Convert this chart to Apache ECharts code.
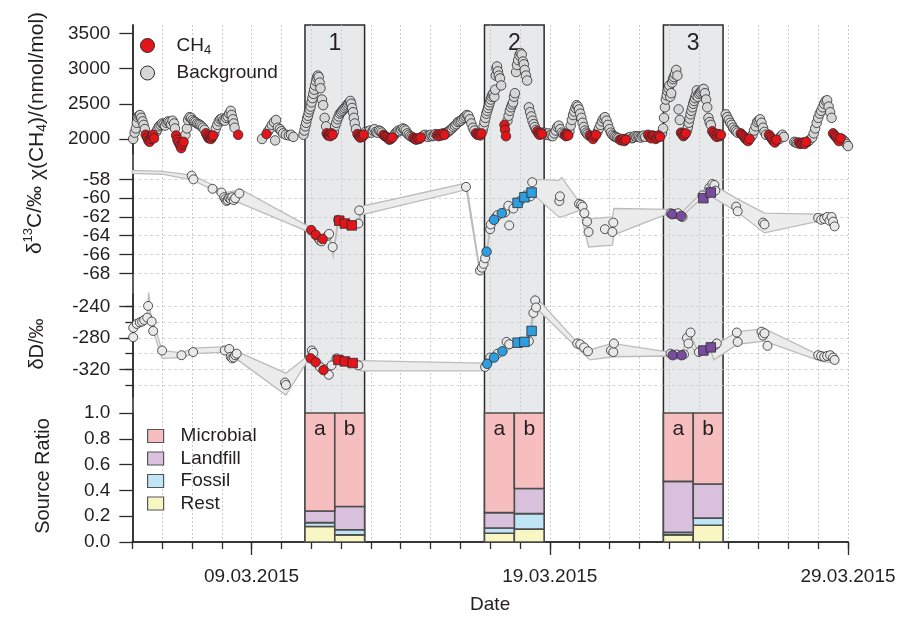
<!DOCTYPE html>
<html><head><meta charset="utf-8">
<script src="https://cdn.jsdelivr.net/npm/echarts@6/dist/echarts.min.js"></script>
<style>html,body{margin:0;padding:0;background:#fff}#c{width:900px;height:617px}</style>
</head><body><div id="c"></div><script>
// x values: days since 05.03.2015 00:00
const dayTicksLabeled = [4, 14, 24];
const dateLabels = ['09.03.2015', '19.03.2015', '29.03.2015'];
const eventStart = [5.79, 11.81, 17.81];
const eventNames = ['1', '2', '3'];
const barHalfNames = ['a', 'b'];

const ch4Ticks = [2000, 2500, 3000, 3500];
const d13cTicks = [-68, -66, -64, -62, -60, -58];
const d13cLabelsA = [-68, -64, -60];
const d13cLabelsB = [-66, -62, -58];
const dDTicks = [-320, -280, -240];
const dDMinorTicks = [-340, -320, -300, -280, -260, -240];
const ratioTicks = [0, 0.2, 0.4, 0.6, 0.8, 1.0];

const ch4Background = [
[0.03,2000],[0.08,2090],[0.12,2150],[0.15,2230],[0.18,2310],[0.22,2330],[0.26,2340],[0.3,2300],[0.34,2250],[0.38,2200],[0.42,2140],
[0.8,2100],[0.85,2140],[0.9,2180],[0.95,2200],[1.0,2220],[1.05,2210],[1.1,2190],[1.15,2230],[1.2,2250],[1.25,2240],[1.3,2210],[1.35,2260],[1.4,2220],[1.43,2150],
[1.78,2060],[1.83,2150],[1.87,2270],[1.92,2310],[1.97,2300],[2.02,2270],[2.07,2250],[2.12,2240],[2.17,2220],[2.22,2210],[2.27,2200],[2.32,2180],[2.37,2160],[2.42,2130],
[2.75,2080],[2.8,2150],[2.85,2200],[2.9,2250],[2.95,2280],[3.0,2290],[3.05,2270],[3.1,2260],[3.15,2300],[3.2,2320],[3.25,2360],[3.3,2400],[3.33,2340],[3.37,2280],[3.4,2220],[3.43,2160],
[4.35,2000],[4.55,2110],[4.62,2150],[4.68,2200],[4.75,2240],[4.82,2270],[4.79,1980],[4.88,2160],[4.95,2140],[5.0,2110],[5.06,2080],[5.15,2060],[5.25,2050],[5.32,2060],[5.4,2030],
[5.74,2060],[5.77,2120],[5.8,2180],[5.83,2230],[5.86,2290],[5.89,2330],[5.92,2380],[5.95,2420],[5.98,2460],[6.01,2520],[6.04,2580],[6.07,2640],[6.1,2700],[6.13,2760],[6.16,2820],[6.19,2870],[6.22,2900],[6.25,2880],[6.28,2800],[6.31,2720],[6.36,2560],[6.4,2480],[6.45,2300],[6.5,2180],
[6.76,2100],[6.8,2180],[6.84,2230],[6.88,2280],[6.92,2320],[6.96,2360],[7.0,2380],[7.04,2400],[7.08,2420],[7.12,2440],[7.16,2460],[7.2,2480],[7.24,2500],[7.28,2520],[7.31,2540],[7.34,2500],[7.37,2440],[7.4,2380],[7.43,2300],[7.46,2220],[7.5,2140],
[7.82,2100],[7.87,2080],[7.92,2110],[7.97,2120],[8.02,2090],[8.07,2120],[8.12,2140],[8.17,2100],[8.22,2090],[8.27,2120],[8.32,2110],[8.37,2090],
[8.77,2050],[8.82,2080],[8.87,2100],[8.92,2120],[8.97,2110],[9.02,2130],[9.07,2150],[9.12,2140],[9.17,2120],[9.22,2080],[9.27,2060],[9.32,2040],[9.37,2030],
[9.72,2030],[9.77,2050],[9.82,2060],[9.87,2040],[9.92,2030],[9.97,2050],[10.02,2060],[10.07,2040],[10.12,2050],[10.17,2070],
[10.52,2080],[10.57,2100],[10.62,2110],[10.67,2130],[10.72,2150],[10.77,2170],[10.82,2190],[10.87,2210],[10.92,2240],[10.97,2250],[11.02,2260],[11.07,2280],[11.12,2300],[11.17,2320],[11.22,2340],[11.27,2330],[11.32,2280],[11.37,2220],[11.42,2160],[11.47,2120],
[11.75,2120],[11.78,2180],[11.81,2240],[11.84,2300],[11.87,2360],[11.9,2400],[11.93,2440],[11.96,2480],[11.99,2520],[12.02,2560],[12.05,2600],[12.08,2630],[12.11,2650],[12.14,2600],[12.17,2700],[12.19,2900],[12.21,3000],[12.23,3030],[12.26,2960],[12.29,2900],[12.33,2860],[12.37,2760],
[12.58,2260],[12.62,2330],[12.66,2400],[12.7,2450],[12.74,2490],[12.77,2520],[12.8,2600],[12.83,2650],[12.87,2950],[12.9,3050],[12.94,3120],[12.98,3190],[13.02,3220],[13.06,3200],[13.1,3100],[13.13,3060],[13.16,2980],[13.2,2900],[13.24,2830],[13.3,2450],[13.34,2380],[13.38,2320],[13.42,2260],[13.46,2210],[13.5,2170],[13.54,2130],
[13.8,2090],[13.85,2070],[13.9,2060],[13.95,2080],[14.0,2050],[14.05,2060],[14.1,2040],[14.15,2080],[14.2,2120],[14.25,2170],[14.3,2190],[14.35,2140],[14.4,2090],[14.45,2070],
[14.66,2110],[14.7,2190],[14.74,2270],[14.78,2340],[14.82,2390],[14.86,2440],[14.9,2480],[14.94,2460],[14.98,2420],[15.02,2360],[15.06,2300],[15.1,2230],[15.14,2170],[15.18,2120],[15.22,2090],[15.26,2070],[15.3,2050],
[15.6,2100],[15.65,2150],[15.7,2200],[15.75,2250],[15.8,2290],[15.85,2310],[15.9,2260],[15.95,2200],[16.0,2140],[16.05,2090],[16.1,2060],[16.15,2040],[16.2,2030],[16.25,2020],[16.3,2010],
[16.6,2010],[16.65,2020],[16.7,2030],[16.75,2010],[16.8,2020],[16.85,2040],[16.9,2030],[16.95,2040],[17.0,2030],[17.05,2020],[17.1,2040],[17.15,2050],[17.2,2030],
[17.76,2080],[17.8,2150],[17.83,2300],[17.86,2450],[17.89,2560],[17.92,2620],[17.95,2680],[17.98,2720],[18.01,2760],[18.04,2600],[18.07,2650],[18.1,2800],[18.13,2850],[18.16,2880],[18.2,2920],[18.24,2980],[18.28,2900],[18.32,2420],[18.36,2270],
[18.6,2120],[18.63,2170],[18.66,2230],[18.69,2290],[18.72,2350],[18.75,2400],[18.78,2450],[18.81,2500],[18.84,2540],[18.87,2580],[18.9,2620],[18.93,2690],[18.96,2600],[19.0,2640],[19.04,2660],[19.08,2680],[19.12,2700],[19.16,2710],[19.2,2650],[19.24,2560],[19.28,2450],[19.32,2300],[19.36,2240],[19.4,2200],
[19.9,2350],[19.95,2310],[20.0,2270],[20.05,2230],[20.1,2200],[20.15,2160],[20.2,2130],[20.25,2110],[20.3,2090],
[20.75,2030],[20.8,2060],[20.85,2120],[20.9,2180],[20.95,2240],[21.0,2260],[21.05,2280],[21.1,2230],[21.15,2160],[21.2,2100],[21.25,2060],
[21.7,2000],[21.75,2040],[21.8,2060],[21.85,2030],
[22.2,1960],[22.25,1950],[22.3,1940],[22.65,1960],[22.7,1980],
[22.8,2020],[22.85,2080],[22.9,2150],[22.95,2230],[23.0,2300],[23.05,2360],[23.1,2400],[23.15,2450],[23.2,2500],[23.25,2540],[23.3,2550],[23.35,2460],[23.4,2380],[23.45,2300],
[23.8,2000],[23.85,1980],[23.9,1960],[23.95,1930],[24.0,1900]
];
const ch4Source = [
[0.45,2060],[0.5,2020],[0.54,1980],[0.58,1960],[0.62,2000],[0.66,2040],[0.7,2060],[0.73,2010],
[1.47,2050],[1.51,1990],[1.55,1950],[1.6,1910],[1.64,1870],[1.68,1920],[1.72,1960],
[2.47,2080],[2.52,2040],[2.56,2010],[2.6,2020],[2.64,2000],[2.68,2030],[2.71,2050],
[3.55,2060],[4.5,2070],
[6.52,2080],[6.56,2050],[6.6,2060],[6.64,2040],[6.68,2080],[6.72,2060],
[7.55,2070],[7.6,2040],[7.64,2020],[7.68,2050],[7.72,2030],[7.76,2060],
[8.42,2060],[8.47,2040],[8.52,2030],[8.57,2010],[8.62,1990],[8.67,2000],[8.72,2020],
[9.42,2020],[9.47,2000],[9.52,1990],[9.57,2010],[9.62,2000],[9.67,2020],
[10.22,2060],[10.27,2040],[10.32,2070],[10.37,2050],[10.42,2080],[10.47,2060],
[11.52,2080],[11.57,2060],[11.62,2070],[11.67,2050],[11.71,2080],
[12.48,2200],[12.5,2130],[12.53,2040],
[13.58,2110],[13.62,2080],[13.66,2060],[13.7,2090],[13.74,2070],
[14.5,2060],[14.54,2040],[14.58,2070],[14.62,2050],
[15.35,2050],[15.4,2030],[15.45,2000],[15.5,2040],[15.55,2060],
[16.35,1990],[16.4,1980],[16.45,2000],[16.5,1970],[16.55,1990],
[17.3,2060],[17.35,2030],[17.4,2010],[17.45,2050],[17.5,2040],[17.55,2000],[17.6,2020],[17.65,2050],[17.7,2030],
[18.4,2090],[18.44,2070],[18.48,2040],[18.52,2060],[18.56,2080],
[19.45,2110],[19.5,2080],[19.55,2050],[19.6,2030],[19.65,2070],[19.7,2040],[19.74,2060],
[20.4,2080],[20.45,2060],[20.5,2040],[20.55,2010],[20.6,1990],[20.65,1970],[20.7,2000],
[21.35,2060],[21.4,2030],[21.45,2000],[21.5,1970],[21.55,1950],[21.6,1990],
[22.35,1950],[22.4,1930],[22.45,1940],[22.5,1950],[22.55,1930],[22.6,1960],
[23.5,2080],[23.55,2050],[23.6,2030],[23.65,2000],[23.7,1970],[23.75,2010]
];

const d13cBackground = [
[1.99,-57.6],[2.05,-58.0],[2.69,-59.0],[2.99,-59.4],[3.08,-59.9],[3.12,-60.1],[3.16,-60.3],[3.2,-60.2],[3.25,-60.0],[3.3,-60.1],[3.35,-59.9],[3.4,-60.2],[3.45,-60.0],[3.59,-59.5],
[6.25,-64.3],[6.29,-64.5],[6.35,-64.6],[6.55,-64.0],[6.6,-63.8],[6.72,-65.2],[6.9,-62.3],[7.58,-62.7],[7.61,-61.3],
[11.19,-58.8],
[11.66,-67.7],[11.72,-67.4],[11.78,-67.0],[11.83,-66.4],[12.0,-63.3],[12.02,-62.8],[12.2,-62.0],[12.25,-61.8],[12.5,-61.5],[12.61,-60.8],[12.64,-62.9],[12.78,-61.1],[13.0,-60.3],[13.2,-59.7],[13.35,-59.8],[13.41,-58.3],
[14.32,-60.3],[14.34,-59.8],[14.98,-60.6],[15.05,-60.7],[15.1,-60.9],[15.16,-61.6],[15.25,-62.5],[15.3,-63.6],[15.85,-63.3],[16.1,-63.6],[16.13,-62.6],
[18.05,-61.6],[18.2,-61.7],[18.3,-61.6],[18.45,-62.0],[19.12,-59.7],[19.35,-58.9],[19.45,-58.5],[19.52,-58.6],[19.55,-59.2],
[20.25,-60.9],[20.3,-61.4],[21.15,-62.6],[21.2,-62.8],
[23.0,-62.1],[23.1,-62.3],[23.2,-62.2],[23.3,-62.0],[23.38,-62.4],[23.45,-62.0],[23.5,-62.5],[23.55,-63.0]
];
const d13cRedCircles = [[6.0,-63.4],[6.15,-63.9],[6.38,-64.35]];
const d13cRedSquares = [[6.94,-62.4],[7.13,-62.7],[7.36,-62.9]];
const d13cBlueCircles = [[11.88,-65.7],[12.13,-62.3],[12.39,-61.6]];
const d13cBlueSquares = [[12.92,-60.5],[13.15,-59.9],[13.39,-59.4]];
const d13cPurpleCircles = [[18.1,-61.7],[18.4,-61.9]];
const d13cPurpleSquares = [[19.15,-60.0],[19.4,-59.4]];

const d13cBandDay = [0.0,1.0,2.0,2.7,3.1,3.5,3.6,5.85,6.1,6.4,6.6,6.74,6.9,7.1,7.45,7.6,7.65,11.2,11.65,11.9,12.0,12.3,12.6,13.0,13.4,13.45,14.3,14.4,15.01,15.3,16.1,16.15,18.0,18.4,19.1,19.45,19.5,20.3,21.2,23.1,23.55];
const d13cBandLow = [-57.35,-57.45,-58.05,-59.1,-60.2,-60.5,-60.5,-63.5,-64.1,-64.8,-64.2,-66.2,-62.6,-62.8,-63.0,-62.9,-61.8,-59.1,-67.9,-65.7,-63.3,-62.0,-61.2,-60.5,-59.4,-59.6,-62.0,-62.0,-61.3,-65.2,-65.0,-63.9,-61.6,-62.0,-60.0,-58.6,-60.0,-61.5,-63.7,-62.4,-62.6];
const d13cBandHigh = [-57.05,-57.15,-57.55,-58.6,-59.4,-59.2,-59.0,-62.9,-63.6,-64.2,-63.7,-65.8,-62.2,-62.3,-62.5,-62.3,-60.9,-58.4,-67.5,-65.3,-62.9,-61.5,-60.6,-60.1,-58.9,-58.0,-58.1,-57.8,-60.5,-62.2,-62.0,-61.1,-61.2,-61.6,-59.4,-58.0,-58.6,-60.1,-61.6,-61.7,-61.7];

const dDBackground = [
[0.03,-267],[0.03,-279],[0.15,-262],[0.25,-260],[0.33,-259],[0.4,-257],[0.5,-254],[0.53,-239],[0.65,-259],[0.7,-271],[1.0,-296],[1.65,-302],[2.04,-298],[3.1,-296],[3.25,-294],[3.3,-304],[3.35,-306],[3.4,-305],[3.45,-302],[3.5,-300],[5.12,-337],[5.15,-340],
[6.02,-296],[6.07,-299],[6.29,-317],[6.51,-320],[6.59,-327],[6.68,-315],[6.85,-306],[7.58,-315],
[11.83,-317],[12.0,-305],[12.25,-300],[12.55,-285],[12.64,-288],[13.3,-284],[13.45,-248],[13.51,-232],[13.54,-241],
[14.92,-287],[15.02,-288],[15.15,-292],[15.28,-297],[16.05,-296],[16.13,-298],[16.15,-287],
[18.05,-300],[18.25,-301],[18.5,-301],[18.6,-280],[18.65,-287],[18.72,-273],[19.0,-298],[19.55,-289],[19.6,-287],
[20.27,-273],[20.3,-285],[21.1,-272],[21.15,-277],[21.2,-274],[21.3,-290],
[23.0,-302],[23.1,-303],[23.2,-304],[23.3,-303],[23.4,-302],[23.5,-305],[23.55,-308]
];
const dDRedCircles = [[5.98,-306],[6.15,-311],[6.41,-321]];
const dDRedSquares = [[6.91,-308],[7.13,-310],[7.39,-312]];
const dDBlueCircles = [[11.9,-313],[12.13,-305],[12.41,-297]];
const dDBlueSquares = [[12.92,-286],[13.15,-285],[13.39,-271]];
const dDPurpleCircles = [[18.12,-302],[18.42,-302]];
const dDPurpleSquares = [[19.15,-296],[19.4,-292]];

const dDBandDay = [0.0,0.5,0.55,0.62,1.0,1.65,2.05,3.2,3.5,5.15,5.88,6.1,6.4,6.6,6.72,7.0,7.4,7.6,7.65,11.75,11.9,12.4,12.9,13.35,13.42,13.5,14.9,15.0,15.35,16.1,18.0,18.45,18.6,18.7,18.95,19.1,19.4,19.5,20.3,21.2,23.1,23.55];
const dDBandLow = [-268,-258,-226,-262,-306,-305,-300,-298,-307,-353,-309,-305,-321,-327,-314,-310,-314,-318,-322,-322,-316,-300,-289,-288,-260,-240,-292,-296,-308,-304,-303,-304,-296,-288,-302,-298,-296,-308,-288,-284,-310,-312];
const dDBandHigh = [-261,-249,-222,-250,-296,-299,-293,-291,-297,-325,-303,-298,-313,-318,-303,-304,-308,-309,-309,-312,-311,-294,-283,-281,-240,-226,-285,-290,-295,-287,-298,-298,-280,-274,-296,-293,-288,-290,-272,-268,-303,-304];

// source ratios for bars 1a,1b,2a,2b,3a,3b
const ratioMicrobial = [0.76, 0.725, 0.772, 0.585, 0.53, 0.55];
const ratioLandfill = [0.09, 0.18, 0.12, 0.195, 0.395, 0.265];
const ratioFossil = [0.03, 0.04, 0.04, 0.12, 0.02, 0.055];
const ratioRest = [0.12, 0.055, 0.068, 0.10, 0.055, 0.13];

const FONT = '"Liberation Sans", Arial, Helvetica, sans-serif';
const TXT = '#231f20';
const AX = '#2b2b2b';
const GL = 132.3, GR = 52;

function ratioSegments(which) {
  const layers = [ratioRest, ratioFossil, ratioLandfill, ratioMicrobial];
  return ratioRest.map((_, j) => {
    let base = 0;
    for (let k = 0; k < which; k++) base += layers[k][j];
    const x0 = eventStart[Math.floor(j / 2)] + (j % 2);
    return [x0, x0 + 1, base, Math.min(1, base + layers[which][j]), j];
  });
}
function barRender(withLabel) {
  return function (params, api) {
    const a = api.coord([api.value(0), api.value(3)]);
    const b = api.coord([api.value(1), api.value(2)]);
    const rect = {type: 'rect', shape: {x: a[0], y: a[1], width: b[0] - a[0], height: b[1] - a[1]},
      style: {fill: api.visual('color'), stroke: '#4d4d4d', lineWidth: 1.6}};
    if (!withLabel) return rect;
    return {type: 'group', children: [rect, {type: 'text', x: (a[0] + b[0]) / 2, y: a[1] + 16,
      style: {text: barHalfNames[api.value(4) % 2], fontSize: 21, fontFamily: FONT, fill: TXT, align: 'center', verticalAlign: 'middle'}}]};
  };
}
function bandRender(days, lo, hi) {
  return function (params, api) {
    const pts = [];
    for (let i = 0; i < days.length; i++) pts.push(api.coord([days[i], hi[i]]));
    for (let i = days.length - 1; i >= 0; i--) pts.push(api.coord([days[i], lo[i]]));
    return {type: 'polygon', shape: {points: pts}, style: {fill: '#ececec', stroke: '#bcbcbc', lineWidth: 1.3}};
  };
}
function pts(name, data, xi, yi, color, symbol, size, z) {
  return {type: 'scatter', name: name, data: data, xAxisIndex: xi, yAxisIndex: yi, symbol: symbol || 'circle',
    symbolSize: size || 9, itemStyle: {color: color, borderColor: '#2a2a2a', borderWidth: 0.8, opacity: 1}, z: z || 3, silent: true};
}
function lbl(values, fmt) {
  return {show: true, customValues: values, interval: 0, margin: 22, fontSize: 19, lineHeight: 16, color: TXT, fontFamily: FONT,
    showMinLabel: true, showMaxLabel: true, hideOverlap: false, formatter: fmt || (v => String(v))};
}
function yAx(grid, min, max, ticks, extra) {
  return Object.assign({type: 'value', gridIndex: grid, min: min, max: max, position: 'left',
    axisLine: {show: true, lineStyle: {color: AX, width: 1.5}},
    axisTick: {show: true, inside: false, length: 13, interval: 0, customValues: ticks, lineStyle: {color: AX, width: 1.3}},
    axisLabel: lbl(ticks),
    splitLine: {show: false}}, extra || {});
}
const xHidden = g => ({type: 'value', gridIndex: g, min: 0, max: 24, show: false});

const option = {
  animation: false,
  backgroundColor: '#fff',
  textStyle: {fontFamily: FONT},
  grid: [
    {left: GL, right: GR, top: 25, bottom: 75},
    {left: GL, right: GR, top: 25, height: 129},
    {left: GL, right: GR, top: 170, height: 103.3},
    {left: GL, right: GR, top: 294, height: 103},
    {left: GL, right: GR, top: 413, height: 129}
  ],
  xAxis: [
    {type: 'value', gridIndex: 0, min: 0, max: 24, interval: 1, position: 'top',
      axisLine: {show: true, lineStyle: {color: AX, width: 1.5}}, axisTick: {show: false}, axisLabel: {show: false},
      splitLine: {show: true, lineStyle: {type: [2, 2], color: '#cdcdcd', width: 1}}},
    xHidden(1), xHidden(2), xHidden(3),
    {type: 'value', gridIndex: 4, min: 0, max: 24, interval: 1, position: 'bottom',
      axisLine: {show: true, lineStyle: {color: AX, width: 1.5}},
      axisTick: {show: true, length: 7, lineStyle: {color: AX, width: 1.3}},
      axisLabel: {show: true, customValues: dayTicksLabeled, interval: 0, margin: 25, fontSize: 19, color: TXT, fontFamily: FONT,
        showMinLabel: true, showMaxLabel: true,
        formatter: v => { const i = dayTicksLabeled.indexOf(Math.round(v)); return i >= 0 ? dateLabels[i] : ''; }},
      splitLine: {show: false},
      name: 'Date', nameLocation: 'middle', nameGap: 53, nameTextStyle: {fontSize: 19, color: TXT, fontFamily: FONT}},
    {type: 'value', gridIndex: 4, min: 0, max: 24, position: 'bottom',
      axisLine: {show: false}, axisTick: {show: true, length: 13, customValues: dayTicksLabeled, lineStyle: {color: AX, width: 1.3}},
      axisLabel: {show: false}, splitLine: {show: false}}
  ],
  yAxis: [
    {type: 'value', gridIndex: 0, min: 0, max: 1, position: 'right',
      axisLine: {show: true, lineStyle: {color: AX, width: 1.5}}, axisTick: {show: false}, axisLabel: {show: false}, splitLine: {show: false}},
    yAx(1, 1787, 3618, ch4Ticks),
    yAx(2, -68, -57, d13cTicks, {axisLabel: lbl(d13cLabelsA), splitLine: {show: true, lineStyle: {type: [3, 3], color: '#d2d2d2'}}}),
    yAx(3, -355.4, -223.8, dDTicks),
    {type: 'value', gridIndex: 3, min: -355.4, max: -223.8, position: 'left',
      axisLine: {show: false}, axisTick: {show: true, length: 7, interval: 0, customValues: dDMinorTicks, lineStyle: {color: AX, width: 1.3}},
      axisLabel: {show: false}, splitLine: {show: true, lineStyle: {type: [3, 3], color: '#d2d2d2'}}},
    yAx(4, 0, 1, ratioTicks, {axisLabel: lbl(ratioTicks, v => v.toFixed(1))}),
    {type: 'value', gridIndex: 2, min: -68, max: -57, position: 'left',
      axisLine: {show: false}, axisTick: {show: false}, axisLabel: lbl(d13cLabelsB), splitLine: {show: false}}
  ],
  legend: [
    {data: ['CH4', 'Background'], orient: 'vertical', left: 140, top: 36, itemWidth: 14, itemHeight: 14, itemGap: 7,
      icon: 'circle', selectedMode: false, padding: 0,
      itemStyle: {borderColor: '#2a2a2a', borderWidth: 1},
      formatter: n => n === 'CH4' ? '{n|CH}{s|4}' : '{n|Background}',
      textStyle: {color: TXT, fontFamily: FONT, fontSize: 19, padding: [0, 0, 0, 17], rich: {
        n: {fontSize: 19, lineHeight: 22, color: TXT, fontFamily: FONT},
        s: {fontSize: 13, lineHeight: 13, verticalAlign: 'bottom', color: TXT, fontFamily: FONT}}}},
    {data: ['Microbial', 'Landfill', 'Fossil', 'Rest'], orient: 'vertical', left: 147, top: 425, itemWidth: 16, itemHeight: 13,
      itemGap: 0.5, icon: 'rect', selectedMode: false, padding: 0, symbolKeepAspect: false,
      itemStyle: {borderColor: '#555', borderWidth: 1.2},
      textStyle: {color: TXT, fontFamily: FONT, fontSize: 19, lineHeight: 22, padding: [0, 0, 0, 12]}}
  ],
  graphic: [
    {type: 'text', x: 37, y: 96, rotation: Math.PI / 2, silent: true,
      style: {text: '{n|χ(CH}{s|4}{n|)/(nmol/mol)}', align: 'center', verticalAlign: 'middle', fill: TXT, fontFamily: FONT, fontSize: 21,
        rich: {n: {fontSize: 21, lineHeight: 24, fontFamily: FONT, fill: TXT}, s: {fontSize: 14, lineHeight: 14, verticalAlign: 'bottom', fontFamily: FONT, fill: TXT}}}},
    {type: 'text', x: 35, y: 220, rotation: Math.PI / 2, silent: true,
      style: {text: '{n|δ}{p|13}{n|C/‰}', align: 'center', verticalAlign: 'middle', fill: TXT, fontFamily: FONT, fontSize: 20,
        rich: {n: {fontSize: 21, lineHeight: 26, fontFamily: FONT, fill: TXT}, p: {fontSize: 13, lineHeight: 13, verticalAlign: 'top', fontFamily: FONT, fill: TXT}}}},
    {type: 'text', x: 37, y: 344, rotation: Math.PI / 2, silent: true,
      style: {text: 'δD/‰', align: 'center', verticalAlign: 'middle', fill: TXT, fontFamily: FONT, fontSize: 20}},
    {type: 'text', x: 43, y: 476, rotation: Math.PI / 2, silent: true,
      style: {text: 'Source Ratio', align: 'center', verticalAlign: 'middle', fill: TXT, fontFamily: FONT, fontSize: 20}}
  ],
  series: [
    {type: 'custom', name: 'events', xAxisIndex: 0, yAxisIndex: 0, z: -1, silent: true,
      data: eventStart.map((s, i) => [s, s + 2, 0, 1, i]), encode: {x: [0, 1], y: [2, 3]},
      renderItem: (params, api) => {
        const a = api.coord([api.value(0), api.value(3)]);
        const b = api.coord([api.value(1), api.value(2)]);
        return {type: 'group', children: [
          {type: 'rect', shape: {x: a[0], y: a[1], width: b[0] - a[0], height: b[1] - a[1]}, style: {fill: '#e8e9eb', stroke: '#2b2b2b', lineWidth: 1.5}},
          {type: 'text', x: (a[0] + b[0]) / 2, y: a[1] + 19, style: {text: eventNames[api.value(4)], fontSize: 23, fontFamily: FONT, fill: TXT, align: 'center', verticalAlign: 'middle'}}
        ]};
      }},
    pts('Background', ch4Background, 1, 1, '#d6d6d6', 'circle', 9.5, 3),
    pts('CH4', ch4Source, 1, 1, '#e3151b', 'circle', 9.5, 4),
    {type: 'custom', name: 'd13c band', xAxisIndex: 2, yAxisIndex: 2, z: 2, silent: true, data: [[12, -60]], encode: {x: 0, y: 1},
      renderItem: bandRender(d13cBandDay, d13cBandLow, d13cBandHigh)},
    pts('d13c bg', d13cBackground, 2, 2, '#e9e9e9'),
    pts('d13c red c', d13cRedCircles, 2, 2, '#e3151b', 'circle', 9.5, 4),
    pts('d13c red s', d13cRedSquares, 2, 2, '#e3151b', 'rect', 9.5, 4),
    pts('d13c blue c', d13cBlueCircles, 2, 2, '#2e9ee0', 'circle', 9.5, 4),
    pts('d13c blue s', d13cBlueSquares, 2, 2, '#2e9ee0', 'rect', 9.5, 4),
    pts('d13c purple c', d13cPurpleCircles, 2, 2, '#7a4c9f', 'circle', 9.5, 4),
    pts('d13c purple s', d13cPurpleSquares, 2, 2, '#7a4c9f', 'rect', 9.5, 4),
    {type: 'custom', name: 'dD band', xAxisIndex: 3, yAxisIndex: 3, z: 2, silent: true, data: [[12, -300]], encode: {x: 0, y: 1},
      renderItem: bandRender(dDBandDay, dDBandLow, dDBandHigh)},
    pts('dD bg', dDBackground, 3, 3, '#e9e9e9'),
    pts('dD red c', dDRedCircles, 3, 3, '#e3151b', 'circle', 9.5, 4),
    pts('dD red s', dDRedSquares, 3, 3, '#e3151b', 'rect', 9.5, 4),
    pts('dD blue c', dDBlueCircles, 3, 3, '#2e9ee0', 'circle', 9.5, 4),
    pts('dD blue s', dDBlueSquares, 3, 3, '#2e9ee0', 'rect', 9.5, 4),
    pts('dD purple c', dDPurpleCircles, 3, 3, '#7a4c9f', 'circle', 9.5, 4),
    pts('dD purple s', dDPurpleSquares, 3, 3, '#7a4c9f', 'rect', 9.5, 4),
    {type: 'custom', name: 'Rest', xAxisIndex: 4, yAxisIndex: 5, z: 3, silent: true, itemStyle: {color: '#f8f6c2'},
      data: ratioSegments(0), encode: {x: [0, 1], y: [2, 3]}, renderItem: barRender(false)},
    {type: 'custom', name: 'Fossil', xAxisIndex: 4, yAxisIndex: 5, z: 3, silent: true, itemStyle: {color: '#bfe5f6'},
      data: ratioSegments(1), encode: {x: [0, 1], y: [2, 3]}, renderItem: barRender(false)},
    {type: 'custom', name: 'Landfill', xAxisIndex: 4, yAxisIndex: 5, z: 3, silent: true, itemStyle: {color: '#d9c1de'},
      data: ratioSegments(2), encode: {x: [0, 1], y: [2, 3]}, renderItem: barRender(false)},
    {type: 'custom', name: 'Microbial', xAxisIndex: 4, yAxisIndex: 5, z: 3, silent: true, itemStyle: {color: '#f7bec0'},
      data: ratioSegments(3), encode: {x: [0, 1], y: [2, 3]}, renderItem: barRender(true)}
  ]
};
const chart = echarts.init(document.getElementById('c'), null, {renderer: 'canvas', width: 900, height: 617});
chart.setOption(option);
</script></body></html>
